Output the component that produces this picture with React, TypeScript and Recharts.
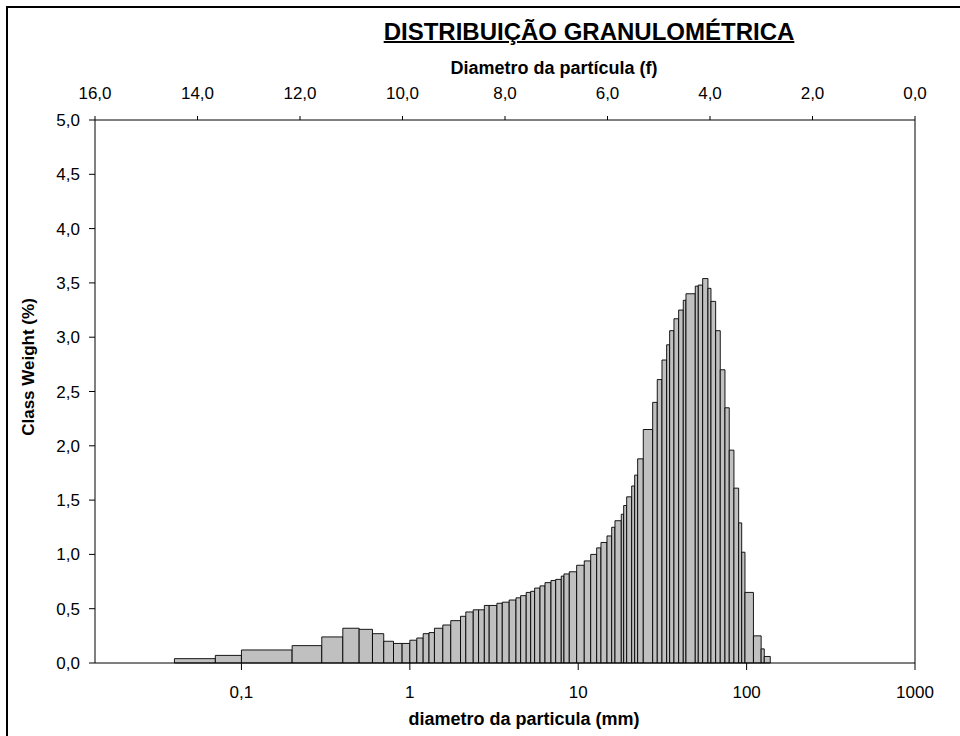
import React from "react"
import { ComposedChart, XAxis, YAxis, ReferenceArea, Scatter } from "recharts"

// class edges in µm (n + 1 values) and the weight of each class in %
const classEdges = [
  0.04, 0.07, 0.1, 0.2, 0.3, 0.4, 0.5, 0.6, 0.7, 0.8, 0.9, 1.0, 1.1, 1.2, 1.3, 1.4, 1.57, 1.75, 2.0, 2.15,
  2.38, 2.56, 2.77, 2.96, 3.29, 3.54, 3.89, 4.27, 4.55, 4.91, 5.22, 5.51, 5.93, 6.35, 6.89, 7.35, 7.93, 8.23,
  8.85, 9.79, 10.86, 11.86, 12.87, 13.65, 14.82, 15.8, 16.53, 18.02, 18.62, 19.4, 20.77, 21.64, 22.54, 24.34,
  27.68, 29.47, 31.43, 33.51, 34.91, 37.03, 39.49, 42.06, 43.64, 49.55, 51.64, 54.83, 58.94, 61.42, 65.5,
  69.74, 74.37, 78.86, 84.1, 89.7, 93.5, 97.8, 109.8, 122.0, 127.3, 138.2,
]

const classWeight = [
  0.04, 0.07, 0.12, 0.16, 0.24, 0.32, 0.31, 0.27, 0.2, 0.18,
  0.18, 0.21, 0.23, 0.27, 0.28, 0.32, 0.35, 0.39, 0.43, 0.47,
  0.49, 0.49, 0.53, 0.53, 0.55, 0.56, 0.58, 0.6, 0.62, 0.65,
  0.66, 0.69, 0.71, 0.74, 0.76, 0.77, 0.8, 0.82, 0.84, 0.9,
  0.94, 1.0, 1.06, 1.11, 1.17, 1.25, 1.31, 1.37, 1.45, 1.53,
  1.63, 1.73, 1.88, 2.15, 2.4, 2.61, 2.79, 2.93, 3.06, 3.17,
  3.25, 3.34, 3.4, 3.47, 3.48, 3.54, 3.45, 3.33, 3.06, 2.7,
  2.35, 1.96, 1.61, 1.29, 1.02, 0.65, 0.25, 0.13, 0.06,
]

const sizeTicks = [0.1, 1, 10, 100, 1000]
const phiTicks = [0, 2, 4, 6, 8, 10, 12, 14, 16]
const weightTicks = [0, 0.5, 1, 1.5, 2, 2.5, 3, 3.5, 4, 4.5, 5]

const bins = classWeight.map((weight, i) => ({
  from: classEdges[i],
  to: classEdges[i + 1],
  weight,
}))

// class tops at the geometric centre, in µm and in phi, so both x axes are bound to a series
const tops = bins.map((b) => {
  const mid = Math.sqrt(b.from * b.to)
  return { mid, phi: -Math.log2(mid / 1000), weight: b.weight }
})

const FONT = "'Liberation Sans', Arial, sans-serif"
const tickStyle = { fontSize: 17, fill: "#000", fontFamily: FONT }

const oneDecimal = (v: number) => v.toFixed(1).replace(".", ",")
const plain = (v: number) => String(v).replace(".", ",")
const noMark = () => <g />

export default function App() {
  return (
    <div
      style={{
        position: "relative",
        width: 960,
        height: 736,
        overflow: "hidden",
        background: "#fff",
        fontFamily: FONT,
        color: "#000",
      }}
    >
      <style>{`body{margin:0}`}</style>
      <div
        style={{
          position: "absolute",
          left: 6,
          top: 6,
          width: 1000,
          height: 800,
          borderLeft: "2px solid #000",
          borderTop: "2px solid #000",
        }}
      />
      <div
        style={{
          position: "absolute",
          left: 589,
          top: 20,
          transform: "translateX(-50%)",
          fontSize: 24,
          lineHeight: "24px",
          fontWeight: "bold",
          whiteSpace: "nowrap",
          textDecoration: "underline",
          textDecorationThickness: 2,
        }}
      >
        DISTRIBUIÇÃO GRANULOMÉTRICA
      </div>
      <div
        style={{
          position: "absolute",
          left: 554,
          top: 59,
          transform: "translateX(-50%)",
          fontSize: 18,
          lineHeight: "18px",
          fontWeight: "bold",
          whiteSpace: "nowrap",
        }}
      >
        Diametro da partícula (f)
      </div>
      <div
        style={{
          position: "absolute",
          left: 28,
          top: 367,
          transform: "translate(-50%, -50%) rotate(-90deg)",
          fontSize: 17,
          lineHeight: "17px",
          fontWeight: "bold",
          whiteSpace: "nowrap",
        }}
      >
        Class Weight (%)
      </div>
      <div
        style={{
          position: "absolute",
          left: 524,
          top: 710,
          transform: "translateX(-50%)",
          fontSize: 18,
          lineHeight: "18px",
          fontWeight: "bold",
          whiteSpace: "nowrap",
        }}
      >
        diametro da particula (mm)
      </div>

      <div style={{ position: "absolute", left: 0, top: 0 }}>
        <ComposedChart width={960} height={736} margin={{ top: 90, right: 40, bottom: 33, left: 35 }}>
          <XAxis
            xAxisId="size"
            dataKey="mid"
            type="number"
            scale="log"
            domain={[0.0135, 1000]}
            allowDataOverflow
            ticks={sizeTicks}
            tickFormatter={plain}
            height={40}
            tickSize={7}
            tickMargin={16}
            tick={tickStyle}
            stroke="#000"
            interval={0}
          />
          <XAxis
            xAxisId="phi"
            dataKey="phi"
            orientation="top"
            type="number"
            domain={[0, 16]}
            allowDataOverflow
            reversed
            ticks={phiTicks}
            tickFormatter={oneDecimal}
            height={30}
            tickSize={4}
            tickMargin={17}
            tick={tickStyle}
            stroke="#000"
            interval={0}
          />
          <YAxis
            yAxisId="w"
            dataKey="weight"
            type="number"
            domain={[0, 5]}
            allowDataOverflow
            ticks={weightTicks}
            tickFormatter={oneDecimal}
            width={60}
            tickSize={6}
            tickMargin={9}
            tick={tickStyle}
            stroke="#000"
            interval={0}
          />
          <YAxis
            yAxisId="frame"
            dataKey="weight"
            orientation="right"
            type="number"
            domain={[0, 5]}
            allowDataOverflow
            tick={false}
            tickLine={false}
            width={5}
            stroke="#000"
          />
          {bins.map((b, i) => (
            <ReferenceArea
              key={i}
              xAxisId="size"
              yAxisId="w"
              x1={b.from}
              x2={b.to}
              y1={0}
              y2={b.weight}
              fill="#c0c0c0"
              fillOpacity={1}
              stroke="#000"
              strokeWidth={1}
              strokeOpacity={0.9}
              ifOverflow="visible"
            />
          ))}
          <Scatter
            data={tops}
            xAxisId="size"
            yAxisId="w"
            dataKey="weight"
            shape={noMark}
            isAnimationActive={false}
          />
          <Scatter
            data={tops}
            xAxisId="phi"
            yAxisId="frame"
            dataKey="weight"
            shape={noMark}
            isAnimationActive={false}
          />
        </ComposedChart>
      </div>
    </div>
  )
}
